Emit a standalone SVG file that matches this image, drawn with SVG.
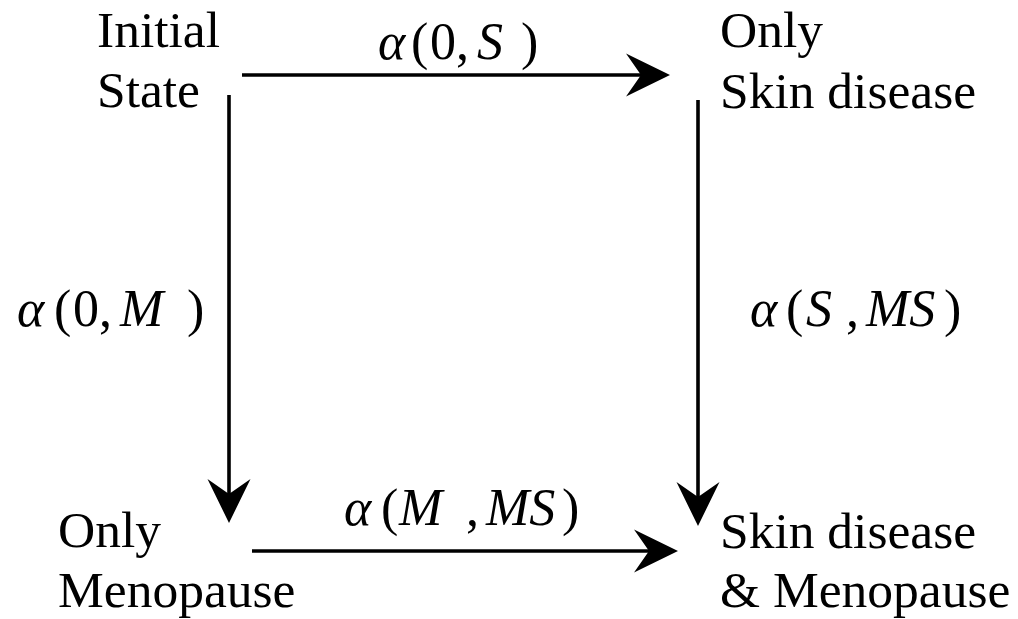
<svg xmlns="http://www.w3.org/2000/svg" width="1018" height="619" viewBox="0 0 1018 619">
<defs>
<style>
text{fill:#000}
.lbl{font-size:51.5px}
.m{font-size:52px}
.i{font-style:italic}
.conn{stroke:#000;stroke-width:3.6;fill:none;marker-end:url(#ah)}
</style>
<marker id="ah" markerUnits="userSpaceOnUse" markerWidth="50" markerHeight="50" viewBox="-46 -25 50 50" refX="-29" refY="0" orient="auto" overflow="visible">
<path d="M0,0 L-44,-21.5 L-29,0 L-44,21.5 Z" fill="#000"/>
</marker>
</defs>
<rect width="1018" height="619" fill="#fff"/>
<g id="connectors">
<line class="conn" x1="242" y1="75" x2="641" y2="75"/>
<line class="conn" x1="229" y1="95" x2="229" y2="494"/>
<line class="conn" x1="698" y1="100" x2="698" y2="497"/>
<line class="conn" x1="252" y1="551" x2="649" y2="551"/>
</g>
<g id="node-initial">
<text class="lbl" font-family="Liberation Serif" x="97" y="47">Initial</text>
<text class="lbl" font-family="Liberation Serif" x="97" y="107">State</text>
</g>
<g id="node-only-skin">
<text class="lbl" font-family="Liberation Serif" x="720" y="47">Only</text>
<text class="lbl" font-family="Liberation Serif" x="720" y="108">Skin disease</text>
</g>
<g id="node-only-menopause">
<text class="lbl" font-family="Liberation Serif" x="58" y="547">Only</text>
<text class="lbl" font-family="Liberation Serif" x="58" y="607">Menopause</text>
</g>
<g id="node-both">
<text class="lbl" font-family="Liberation Serif" x="720" y="548">Skin disease</text>
<text class="lbl" font-family="Liberation Serif" x="720" y="607">&amp; Menopause</text>
</g>
<g id="label-0S">
<text class="m" font-family="Liberation Serif" y="59"><tspan class="i" x="378">α</tspan><tspan x="411">(</tspan><tspan x="430">0,</tspan><tspan class="i" x="477">S</tspan><tspan x="521">)</tspan></text>
</g>
<g id="label-0M">
<text class="m" font-family="Liberation Serif" y="326"><tspan class="i" x="17">α</tspan><tspan x="54">(</tspan><tspan x="73">0,</tspan><tspan class="i" x="120">M</tspan><tspan x="187">)</tspan></text>
</g>
<g id="label-SMS">
<text class="m" font-family="Liberation Serif" y="326"><tspan class="i" x="750">α</tspan><tspan x="786">(</tspan><tspan class="i" x="806">S</tspan><tspan x="846">,</tspan><tspan class="i" x="866">MS</tspan><tspan x="944">)</tspan></text>
</g>
<g id="label-MMS">
<text class="m" font-family="Liberation Serif" y="525"><tspan class="i" x="344">α</tspan><tspan x="381">(</tspan><tspan class="i" x="399">M</tspan><tspan x="466">,</tspan><tspan class="i" x="486">MS</tspan><tspan x="562">)</tspan></text>
</g>
</svg>
